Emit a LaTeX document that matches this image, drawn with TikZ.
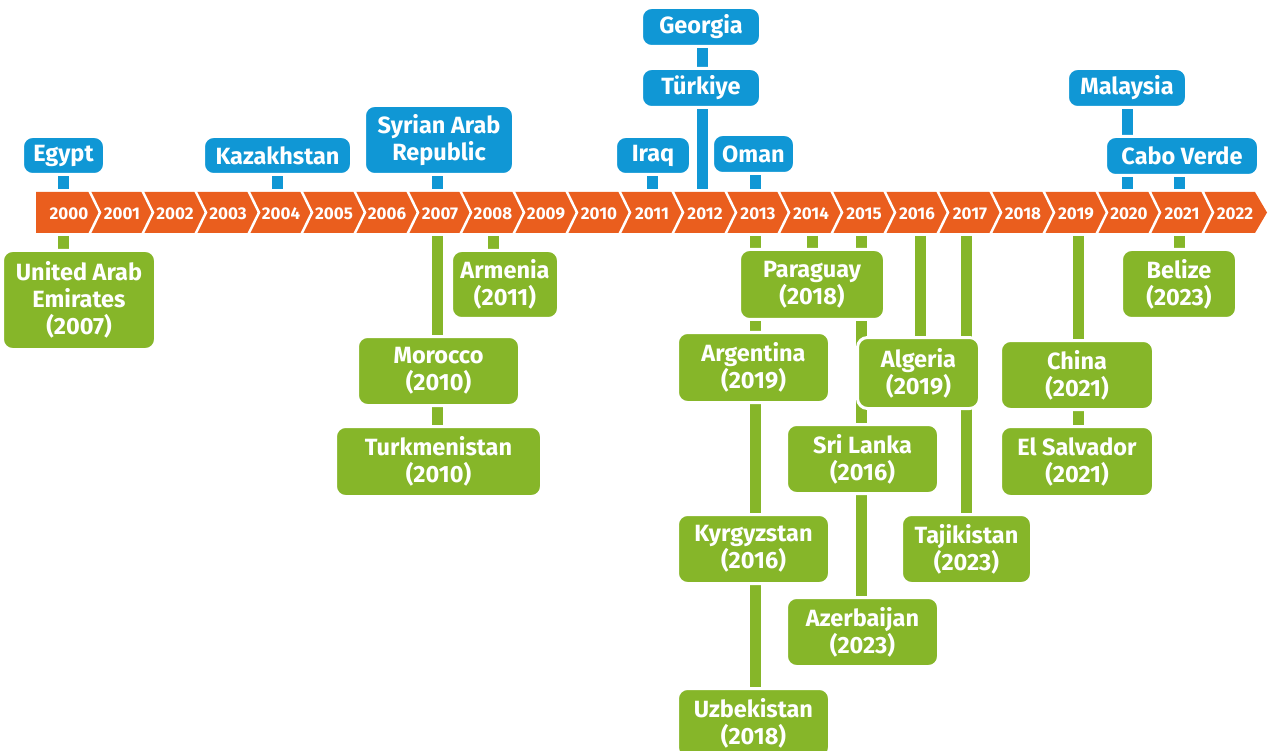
\documentclass[tikz,border=0pt]{standalone}
\usepackage{fontspec}
\setmainfont{Fira Sans}
\definecolor{cblue}{RGB}{16,151,213}
\definecolor{cgreen}{RGB}{134,182,41}
\definecolor{corange}{RGB}{234,94,30}
\pgfdeclarelayer{bg}
\pgfsetlayers{bg,main}
\begin{document}
\begin{tikzpicture}[x=1pt,y=-1pt,
  box/.style={rounded corners=10pt, draw=white, line width=3pt, inner sep=0pt, align=center, text=white, font=\bfseries\fontsize{23.5}{27}\selectfont},
  bbox/.style={box, fill=cblue},
  gbox/.style={box, fill=cgreen},
  bl/.style={line width=11pt, cblue},
  gl/.style={line width=11pt, cgreen},
  yr/.style={text=white, inner sep=0pt, font=\bfseries\fontsize{17}{18}\selectfont},
  sep/.style={white, line width=2.5pt, line join=miter}]
\useasboundingbox (0,0) rectangle (1269,751);
\clip (0,0) rectangle (1269,751);
% bar
\fill[corange] (36,192) -- (1255,192) -- (1267,212.5) -- (1255,233) -- (36,233) -- cycle;
\foreach \k in {0,...,21} \draw[sep] ({89+53*\k},190) -- ({100+53*\k},212.5) -- ({89+53*\k},235);
\foreach \k in {0,...,22} {\pgfmathtruncatemacro{\yy}{2000+\k}\node[yr] (yr\yy) at ({69+53*\k},213.5) {\yy};}
% anchor coordinates on the bar
\coordinate (t2000) at (63,189);
\coordinate (t2004) at (277,189);
\coordinate (t2007) at (437,189);
\coordinate (t2011) at (652,189);
\coordinate (t2012) at (702,189);
\coordinate (t2013) at (755,189);
\coordinate (t2020) at (1127,189);
\coordinate (t2021) at (1179,189);
\coordinate (b2000) at (63,236);
\coordinate (b2007) at (437,236);
\coordinate (b2008) at (493,236);
\coordinate (b2013) at (755,236);
\coordinate (b2014) at (812,236);
\coordinate (b2015) at (861,236);
\coordinate (b2016) at (920,236);
\coordinate (b2017) at (966,236);
\coordinate (b2019) at (1078,236);
\coordinate (b2021) at (1179,236);
% blue boxes
\node[bbox, minimum width=82pt, minimum height=38pt] (egypt) at (63.5,155.5) {Egypt};
\node[bbox, minimum width=148pt, minimum height=38pt] (kaz) at (277.5,155.5) {Kazakhstan};
\node[bbox, minimum width=149pt, minimum height=69pt] (syria) at (439,140) {Syrian Arab\\Republic};
\node[bbox, minimum width=75pt, minimum height=38pt] (iraq) at (653,155.5) {Iraq};
\node[bbox, minimum width=82pt, minimum height=39pt] (oman) at (753.5,154) {Oman};
\node[bbox, minimum width=119pt, minimum height=39pt] (turkiye) at (701,88) {Türkiye};
\node[bbox, minimum width=119pt, minimum height=39pt] (georgia) at (701,27) {Georgia};
\node[bbox, minimum width=119pt, minimum height=39pt] (malaysia) at (1127,88) {Malaysia};
\node[bbox, minimum width=153pt, minimum height=39pt] (cabo) at (1182,156) {Cabo Verde};
% green boxes
\node[gbox, minimum width=153pt, minimum height=99pt] (uae) at (79,300) {United Arab\\Emirates\\(2007)};
\node[gbox, minimum width=107pt, minimum height=68pt] (armenia) at (505,284.5) {Armenia\\(2011)};
\node[gbox, minimum width=162pt, minimum height=69pt] (morocco) at (438.5,371) {Morocco\\(2010)};
\node[gbox, minimum width=206pt, minimum height=70pt] (turkmen) at (438.5,461.5) {Turkmenistan\\(2010)};
\node[gbox, minimum width=145pt, minimum height=70pt] (paraguay) at (812,284.5) {Paraguay\\(2018)};
\node[gbox, minimum width=152pt, minimum height=70pt] (argentina) at (753.5,367.5) {Argentina\\(2019)};
\node[gbox, minimum width=122pt, minimum height=71pt] (algeria) at (918.5,373) {Algeria\\(2019)};
\node[gbox, minimum width=152pt, minimum height=69pt] (srilanka) at (862.5,459) {Sri Lanka\\(2016)};
\node[gbox, minimum width=152pt, minimum height=69pt] (kyrgyz) at (753.5,549) {Kyrgyzstan\\(2016)};
\node[gbox, minimum width=130pt, minimum height=69pt] (tajik) at (966.5,549) {Tajikistan\\(2023)};
\node[gbox, minimum width=152pt, minimum height=69pt] (azerb) at (862.5,632) {Azerbaijan\\(2023)};
\node[gbox, minimum width=152pt, minimum height=69pt] (uzbek) at (753.5,723) {Uzbekistan\\(2018)};
\node[gbox, minimum width=153pt, minimum height=69pt] (china) at (1077,375) {China\\(2021)};
\node[gbox, minimum width=153pt, minimum height=70pt] (elsal) at (1077,461.5) {El Salvador\\(2021)};
\node[gbox, minimum width=115pt, minimum height=69pt] (belize) at (1179,284) {Belize\\(2023)};
% connectors
\begin{pgfonlayer}{bg}
\draw[bl] (t2000) -- (t2000 |- egypt.south);
\draw[bl] (t2004) -- (t2004 |- kaz.south);
\draw[bl] (t2007) -- (t2007 |- syria.south);
\draw[bl] (t2011) -- (t2011 |- iraq.south);
\draw[bl] (t2012) -- (t2012 |- georgia.south);
\draw[bl] (t2013) -- (t2013 |- oman.south);
\draw[bl] (t2020) -- (t2020 |- malaysia.south);
\draw[bl] (t2021) -- (t2021 |- cabo.south);
\draw[gl] (b2000) -- (b2000 |- uae.north);
\draw[gl] (b2007) -- (b2007 |- turkmen.north);
\draw[gl] (b2008) -- (b2008 |- armenia.north);
\draw[gl] (b2013) -- (b2013 |- uzbek.north);
\draw[gl] (b2014) -- (b2014 |- paraguay.north);
\draw[gl] (b2015) -- (b2015 |- azerb.north);
\draw[gl] (b2016) -- (b2016 |- algeria.north);
\draw[gl] (b2017) -- (b2017 |- tajik.north);
\draw[gl] (b2019) -- (b2019 |- elsal.north);
\draw[gl] (b2021) -- (b2021 |- belize.north);
\end{pgfonlayer}
\end{tikzpicture}
\end{document}
